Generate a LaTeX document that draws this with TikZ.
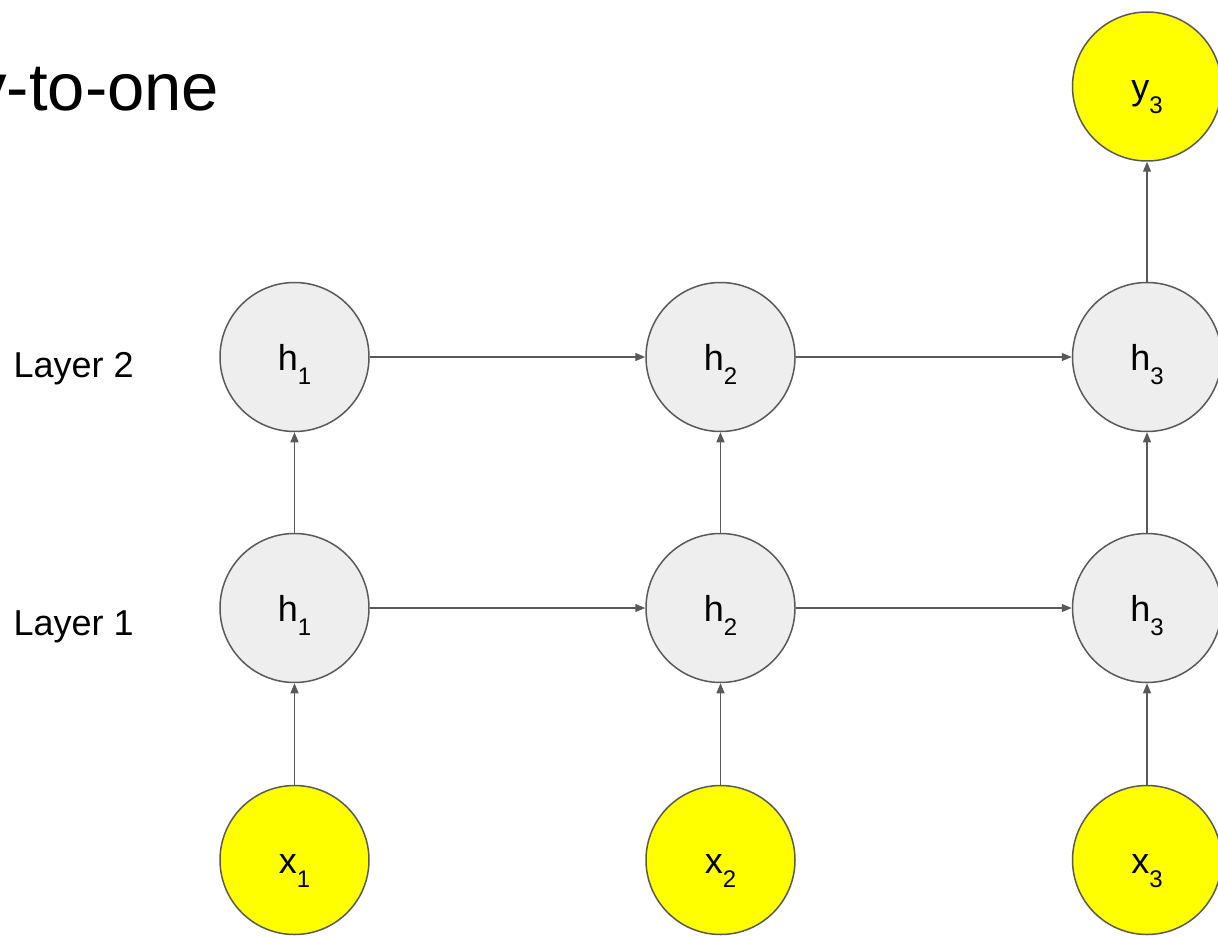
\documentclass[tikz,border=0pt]{standalone}
\usepackage{fontspec}
\setmainfont{Liberation Sans}
\usetikzlibrary{arrows.meta}
\definecolor{edge}{HTML}{595959}
\definecolor{hfill}{HTML}{EEEEEE}
\definecolor{yel}{HTML}{FFFF00}
\tikzset{
  unit/.style={circle, draw=edge, line width=1.5pt, minimum size=149pt, inner sep=0pt,
    text height=26pt, text depth=0pt, font=\fontsize{36}{36}\selectfont},
  hid/.style={unit, fill=hfill},
  io/.style={unit, fill=yel},
  conn/.style={draw=edge, line width=1.3pt, -{Triangle[length=10pt,width=8pt]}},
  lay/.style={anchor=base west, inner sep=0pt, font=\fontsize{36}{36}\selectfont},
}
\newcommand{\sub}[1]{\raisebox{-14.5pt}{\fontsize{24}{24}\selectfont #1}}
\begin{document}
\begin{tikzpicture}[x=1pt,y=-1pt]
\useasboundingbox (0,0) rectangle (1218,936);
\clip (0,0) rectangle (1218,936);
\node[anchor=base east, inner sep=0pt, font=\fontsize{67}{67}\selectfont] (title) at (219.5,111) {Many-to-one};
\node[lay] (l2) at (13.4,377) {Layer 2};
\node[lay] (l1) at (13.4,635.5) {Layer 1};
% inputs
\node[io] (x1) at (294.5,860) {x\sub{1}};
\node[io] (x2) at (720.5,860) {x\sub{2}};
\node[io] (x3) at (1147,860) {x\sub{3}};
% layer 1
\node[hid] (a1) at (294.5,608) {h\sub{1}};
\node[hid] (a2) at (720.5,608) {h\sub{2}};
\node[hid] (a3) at (1147,608) {h\sub{3}};
% layer 2
\node[hid] (b1) at (294.5,357) {h\sub{1}};
\node[hid] (b2) at (720.5,357) {h\sub{2}};
\node[hid] (b3) at (1147,357) {h\sub{3}};
% output
\node[io] (y3) at (1147,86.5) {y\sub{3}};
% connectors
\draw[conn] (x1) -- (a1);
\draw[conn] (x2) -- (a2);
\draw[conn] (x3) -- (a3);
\draw[conn] (a1) -- (b1);
\draw[conn] (a2) -- (b2);
\draw[conn] (a3) -- (b3);
\draw[conn] (a1) -- (a2);
\draw[conn] (a2) -- (a3);
\draw[conn] (b1) -- (b2);
\draw[conn] (b2) -- (b3);
\draw[conn] (b3) -- (y3);
\end{tikzpicture}
\end{document}
